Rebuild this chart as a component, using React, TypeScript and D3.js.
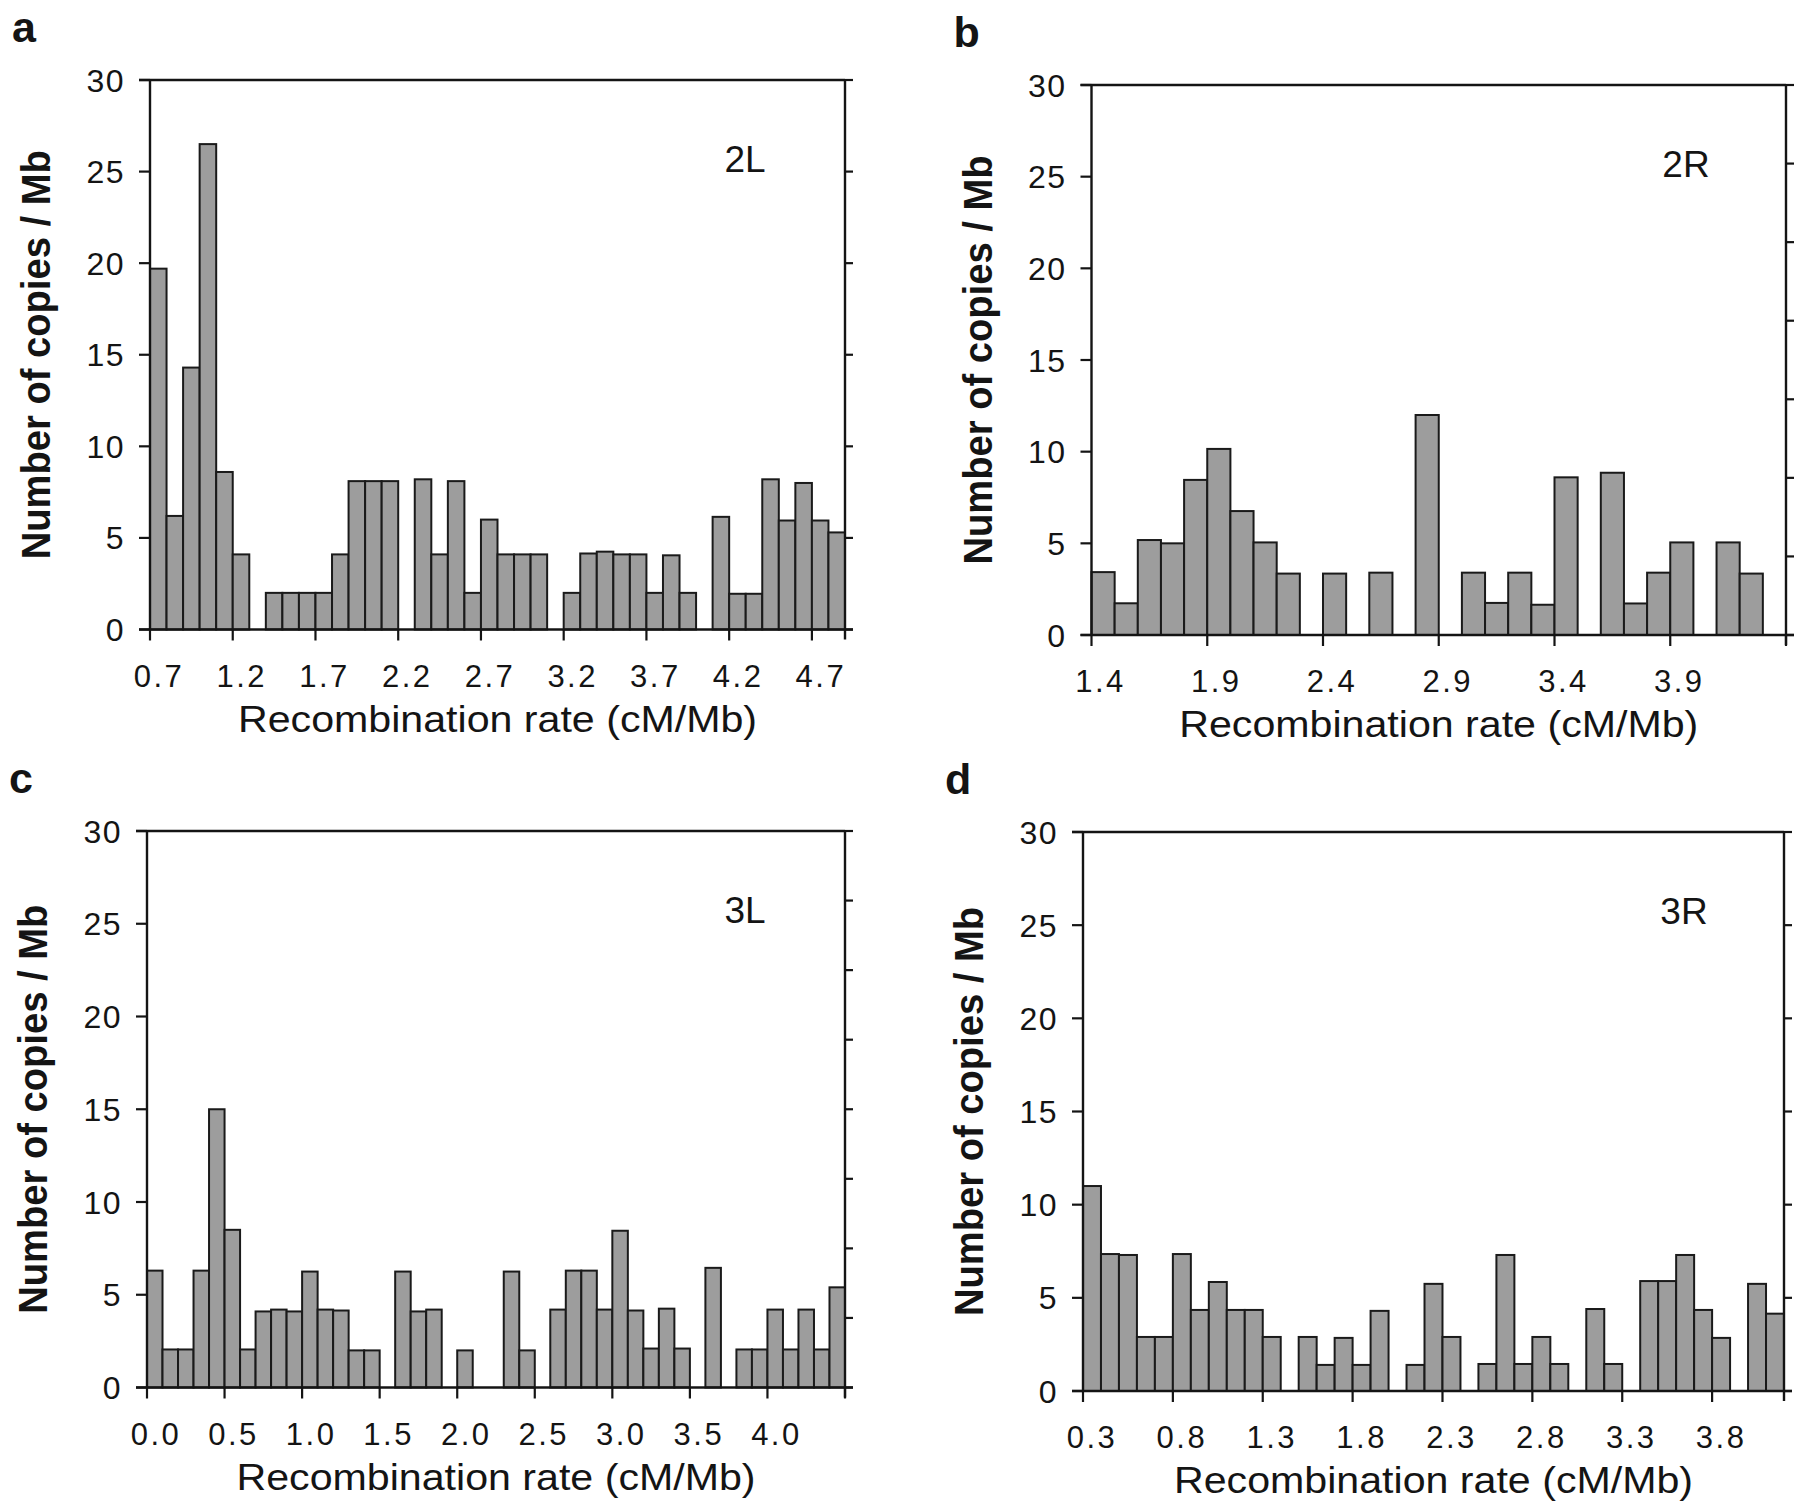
import React from "react";
import * as d3 from "d3";

// ---------- data ----------
const panelLetters = ["a", "b", "c", "d"];
const chromosomeArms = ["2L", "2R", "3L", "3R"];
const firstBin = [0.7, 1.4, 0.0, 0.3];
const BIN = 0.1;

const copies2L = [19.7, 6.2, 14.3, 26.5, 8.6, 4.1, 0, 2.0, 2.0, 2.0, 2.0, 4.1, 8.1, 8.1, 8.1, 0, 8.2, 4.1, 8.1, 2.0, 6.0, 4.1, 4.1, 4.1, 0, 2.0, 4.15, 4.25, 4.1, 4.1, 2.0, 4.05, 2.0, 0, 6.15, 1.95, 1.95, 8.2, 5.95, 8.0, 5.95, 5.3];
const copies2R = [3.43, 1.73, 5.18, 5.0, 8.46, 10.15, 6.76, 5.05, 3.35, 0, 3.35, 0, 3.4, 0, 12.0, 0, 3.4, 1.75, 3.4, 1.65, 8.6, 0, 8.85, 1.72, 3.4, 5.05, 0, 5.05, 3.35, 0];
const copies3L = [6.3, 2.05, 2.05, 6.3, 15.0, 8.5, 2.05, 4.1, 4.2, 4.1, 6.25, 4.2, 4.15, 2.0, 2.0, 0, 6.25, 4.1, 4.2, 0, 2.0, 0, 0, 6.25, 2.0, 0, 4.2, 6.3, 6.3, 4.2, 8.45, 4.15, 2.1, 4.25, 2.1, 0, 6.45, 0, 2.05, 2.05, 4.2, 2.05, 4.2, 2.05, 5.4];
const copies3R = [11.0, 7.35, 7.3, 2.9, 2.9, 7.35, 4.35, 5.85, 4.35, 4.35, 2.9, 0, 2.9, 1.4, 2.85, 1.4, 4.3, 0, 1.4, 5.75, 2.9, 0, 1.45, 7.3, 1.45, 2.9, 1.45, 0, 4.4, 1.45, 0, 5.9, 5.9, 7.3, 4.35, 2.85, 0, 5.75, 4.15];

const ticks2L = ["0.7", "1.2", "1.7", "2.2", "2.7", "3.2", "3.7", "4.2", "4.7"];
const ticks2R = ["1.4", "1.9", "2.4", "2.9", "3.4", "3.9"];
const ticks3L = ["0.0", "0.5", "1.0", "1.5", "2.0", "2.5", "3.0", "3.5", "4.0"];
const ticks3R = ["0.3", "0.8", "1.3", "1.8", "2.3", "2.8", "3.3", "3.8"];

const yTicks = [0, 5, 10, 15, 20, 25, 30];
const rightAxisDivisions = [6, 7, 8, 6];

const xTitle = "Recombination rate (cM/Mb)";
const yTitle = "Number of copies / Mb";

const seriesList = [copies2L, copies2R, copies3L, copies3R];
const tickList = [ticks2L, ticks2R, ticks3L, ticks3R];

// ---------- layout ----------
const frames = [
  { left: 150, right: 845, top: 80, bottom: 629.5 },
  { left: 1091.5, right: 1786, top: 85, bottom: 635 },
  { left: 147, right: 845, top: 831, bottom: 1387.5 },
  { left: 1083, right: 1784, top: 832, bottom: 1391 },
];

const FONT = "'Liberation Sans', Arial, Helvetica, sans-serif";
const INK = "#141414";

function Panel({ idx }: { idx: number }) {
  const f = frames[idx];
  const values = seriesList[idx];
  const n = values.length;
  const start = firstBin[idx];
  const x = d3.scaleLinear().domain([start, start + n * BIN]).range([f.left, f.right]);
  const y = d3.scaleLinear().domain([0, 30]).range([f.bottom, f.top]);
  const yRight = d3.scaleLinear().domain([0, rightAxisDivisions[idx]]).range([f.bottom, f.top]);
  const rightTicks = d3.range(0, rightAxisDivisions[idx] + 1);
  const tickLen = 11;
  const labels = tickList[idx];
  const xTickVals = d3
    .range(0, Math.floor(n / 5) + 1)
    .map((i) => start + i * 5 * BIN)
    .filter((v) => x(v) <= f.right + 0.5);

  return (
    <g>
      {/* bars */}
      {values.map((v, i) =>
        v > 0 ? (
          <rect
            key={i}
            x={x(start + i * BIN)}
            y={y(v)}
            width={x(start + (i + 1) * BIN) - x(start + i * BIN)}
            height={y(0) - y(v)}
            fill="#9d9d9d"
            stroke="#1a1a1a"
            strokeWidth={2}
          />
        ) : null
      )}
      {/* frame lines */}
      <line x1={f.left} x2={f.left} y1={f.top} y2={f.bottom} stroke={INK} strokeWidth={2.4} />
      <line x1={f.left - tickLen} x2={f.right} y1={f.top} y2={f.top} stroke={INK} strokeWidth={2.4} />
      <line x1={f.right} x2={f.right} y1={f.top} y2={f.bottom + 10} stroke={INK} strokeWidth={2.4} />
      <line x1={f.left - tickLen} x2={f.right + 8} y1={f.bottom} y2={f.bottom} stroke={INK} strokeWidth={2.6} />
      {/* left ticks + labels */}
      {yTicks.map((t) => (
        <g key={t}>
          <line x1={f.left - tickLen} x2={f.left} y1={y(t)} y2={y(t)} stroke={INK} strokeWidth={2.2} />
          <text
            x={f.left - 25}
            y={y(t)}
            dy="0.36em"
            textAnchor="end"
            fontFamily={FONT}
            fontSize={32}
            letterSpacing={1.5}
            fill={INK}
          >
            {t}
          </text>
        </g>
      ))}
      {/* right ticks */}
      {rightTicks.map((t) => (
        <line key={t} x1={f.right} x2={f.right + 8} y1={yRight(t)} y2={yRight(t)} stroke={INK} strokeWidth={2.2} />
      ))}
      {/* x ticks */}
      {xTickVals.map((v, i) => (
        <line key={i} x1={x(v)} x2={x(v)} y1={f.bottom} y2={f.bottom + tickLen} stroke={INK} strokeWidth={2.2} />
      ))}
      {labels.map((lab) => (
        <text
          key={lab}
          x={x(parseFloat(lab)) + 9}
          y={f.bottom + 57}
          textAnchor="middle"
          fontFamily={FONT}
          fontSize={31}
          letterSpacing={2.5}
          fill={INK}
        >
          {lab}
        </text>
      ))}
      {/* x title */}
      <text
        x={(f.left + f.right) / 2}
        y={f.bottom + 102}
        textAnchor="middle"
        fontFamily={FONT}
        fontSize={37}
        textLength={519}
        lengthAdjust="spacingAndGlyphs"
        fill={INK}
      >
        {xTitle}
      </text>
      {/* y title */}
      <text
        transform={`translate(${f.left - 100},${(f.top + f.bottom) / 2}) rotate(-90)`}
        textAnchor="middle"
        fontFamily={FONT}
        fontWeight="bold"
        fontSize={41}
        textLength={409}
        lengthAdjust="spacingAndGlyphs"
        fill={INK}
      >
        {yTitle}
      </text>
      {/* chromosome arm */}
      <text
        x={f.right - 100}
        y={f.top + 92}
        textAnchor="middle"
        fontFamily={FONT}
        fontSize={37}
        fill={INK}
      >
        {chromosomeArms[idx]}
      </text>
      {/* panel letter */}
      <text x={f.left - 138} y={f.top - 38} fontFamily={FONT} fontWeight="bold" fontSize={43} fill={INK}>
        {panelLetters[idx]}
      </text>
    </g>
  );
}

export default function App() {
  return (
    <svg
      width={1800}
      height={1509}
      viewBox="0 0 1800 1509"
      style={{ position: "absolute", left: 0, top: 0, background: "#ffffff" }}
    >
      <rect x={0} y={0} width={1800} height={1509} fill="#ffffff" />
      {[0, 1, 2, 3].map((i) => (
        <Panel key={i} idx={i} />
      ))}
    </svg>
  );
}
